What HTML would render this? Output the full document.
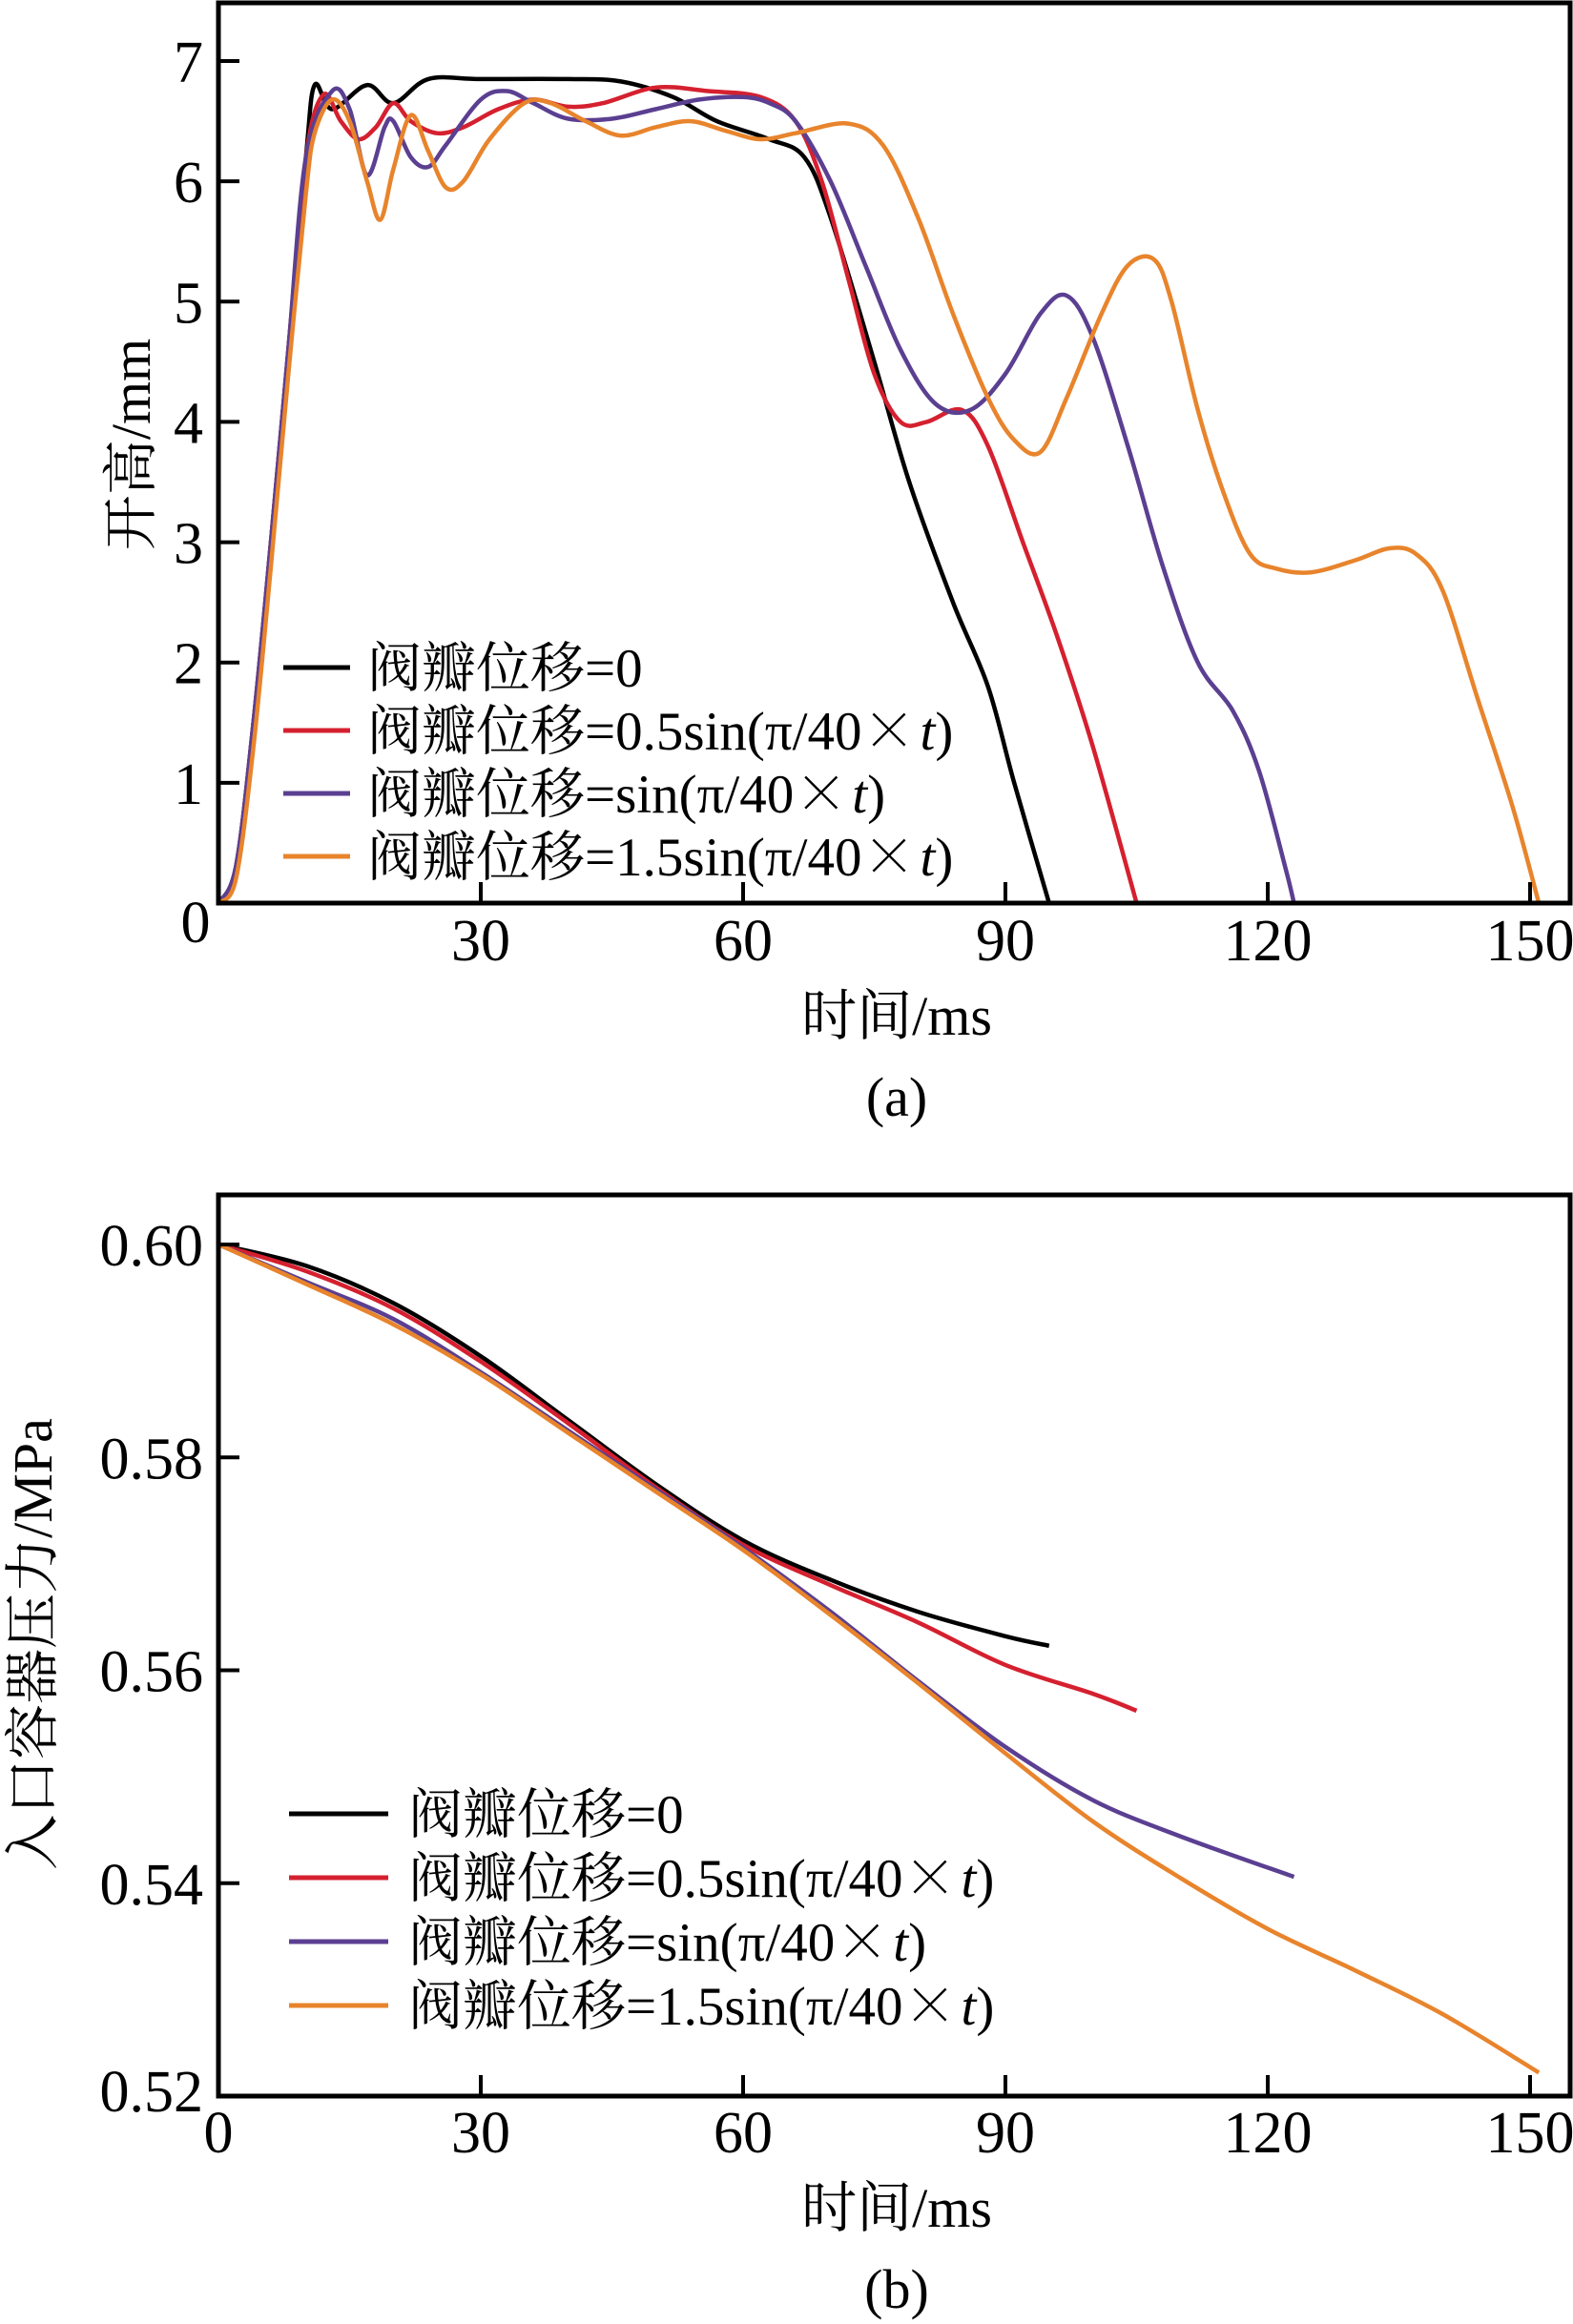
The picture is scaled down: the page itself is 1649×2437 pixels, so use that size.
<!DOCTYPE html>
<html><head><meta charset="utf-8">
<style>
html,body{margin:0;padding:0;background:#fff;}
svg{display:block;}
text{font-family:"Liberation Serif","Noto Serif CJK SC","Noto Sans CJK SC",serif;fill:#000;}
</style></head>
<body>
<svg id="fig" xmlns="http://www.w3.org/2000/svg" width="1649" height="2437" viewBox="0 0 1649 2437">
<g id="pa"></g>
<g id="pb"></g>
</svg>
<script>
// ---- data panel (a): opening height (mm) vs time (ms)
const tBlackA = [0,2,4,6,8,10,11,13,17,20,24,30,40,46,52,57,63,67,70,75,79,84,88,91,95];
const hBlackA = [0,0.3,1.5,3.0,4.6,6.2,6.8,6.6,6.8,6.65,6.85,6.85,6.85,6.83,6.7,6.5,6.35,6.2,5.7,4.5,3.5,2.5,1.8,1.0,0];
const tRedA = [0,2,4,6,8,10,12,14,16,18,20,22,25,28,32,36,40,44,50,56,62,66,69,72,75,78,81,85,88,92,96,100,105];
const hRedA = [0,0.3,1.5,3.0,4.6,6.2,6.72,6.5,6.35,6.45,6.65,6.5,6.4,6.45,6.6,6.68,6.62,6.65,6.78,6.75,6.7,6.5,6.0,5.2,4.4,4.0,4.0,4.1,3.8,3.0,2.2,1.3,0];
const tPurpleA = [0,2,4,6,8,10,13,15,17,19,20,22,24,26,30,33,36,40,45,50,55,60,63,66,70,74,78,82,86,90,94,97,100,104,108,112,116,119,122,123];
const hPurpleA = [0,0.3,1.5,3.0,4.6,6.2,6.75,6.6,6.05,6.45,6.5,6.2,6.12,6.3,6.68,6.75,6.65,6.52,6.52,6.6,6.68,6.7,6.65,6.5,6.0,5.3,4.6,4.15,4.1,4.4,4.9,5.05,4.7,3.8,2.8,2.0,1.6,1.1,0.3,0];
const tOrangeA = [0,2,4,6,8,10,11,13,15,17,18.5,20,22,24,26,28,31,35,38,42,46,50,54,58,62,66,72,76,80,84,88,91,94,97,101,104,107,109,112,115,118,121,125,130,134,137,140,144,148,151];
const hOrangeA = [0,0.2,1.3,2.8,4.4,5.9,6.4,6.68,6.5,6.0,5.68,6.1,6.55,6.25,5.95,6.0,6.35,6.65,6.65,6.5,6.38,6.45,6.5,6.42,6.35,6.4,6.48,6.3,5.7,4.9,4.2,3.85,3.75,4.2,4.9,5.3,5.35,5.0,4.1,3.4,2.9,2.78,2.75,2.85,2.95,2.9,2.6,1.7,0.8,0];
const xTicksA = [0,30,60,90,120,150];
const yTicksA = [0,1,2,3,4,5,6,7];
// ---- data panel (b): inlet pressure (MPa) vs time (ms)
const tBlackB = [0,10,20,30,40,50,60,70,80,90,95];
const pBlackB = [0.600,0.598,0.5945,0.5895,0.5835,0.5775,0.5722,0.5685,0.5655,0.5632,0.5623];
const tRedB = [0,10,20,30,40,50,60,70,80,90,100,105];
const pRedB = [0.600,0.5975,0.594,0.589,0.5832,0.5772,0.5718,0.568,0.5645,0.5605,0.5578,0.5562];
const tPurpleB = [0,10,20,30,40,50,60,70,80,90,100,110,123];
const pPurpleB = [0.600,0.5965,0.593,0.588,0.5825,0.577,0.5715,0.5655,0.559,0.5528,0.5478,0.5444,0.5406];
const tOrangeB = [0,10,20,30,40,50,60,70,80,90,100,110,120,130,140,151];
const pOrangeB = [0.600,0.5963,0.5925,0.5878,0.5823,0.5768,0.5713,0.5652,0.5588,0.5522,0.5458,0.5405,0.5357,0.5318,0.5277,0.5222];
const xTicksB = [0,30,60,90,120,150];
const yTicksB = ["0.52","0.54","0.56","0.58","0.60"];
const legendLabels = ["阀瓣位移=0","阀瓣位移=0.5sin(π/40×<i>t</i>)","阀瓣位移=sin(π/40×<i>t</i>)","阀瓣位移=1.5sin(π/40×<i>t</i>)"];
const colors = ["#000000","#d5202f","#5b3f91","#e8842c"];

const NS="http://www.w3.org/2000/svg";
function mk(parent,tag,attrs){const e=document.createElementNS(NS,tag);for(const k in attrs)e.setAttribute(k,attrs[k]);parent.appendChild(e);return e;}
function smooth(pts){
  let d="M"+pts[0][0].toFixed(1)+","+pts[0][1].toFixed(1);
  for(let i=0;i<pts.length-1;i++){
    const p0=pts[Math.max(0,i-1)],p1=pts[i],p2=pts[i+1],p3=pts[Math.min(pts.length-1,i+2)];
    const c1=[p1[0]+(p2[0]-p0[0])/6,p1[1]+(p2[1]-p0[1])/6];
    const c2=[p2[0]-(p3[0]-p1[0])/6,p2[1]-(p3[1]-p1[1])/6];
    d+="C"+c1[0].toFixed(1)+","+c1[1].toFixed(1)+" "+c2[0].toFixed(1)+","+c2[1].toFixed(1)+" "+p2[0].toFixed(1)+","+p2[1].toFixed(1);
  }
  return d;
}
function panel(g,cfg){
  const X=v=>cfg.x0+(v-cfg.xmin)/(cfg.xmax-cfg.xmin)*(cfg.x1-cfg.x0);
  const Y=v=>cfg.y0-(v-cfg.ymin)/(cfg.ymax-cfg.ymin)*(cfg.y0-cfg.y1);
  cfg.series.forEach((s,i)=>{
    const p=mk(g,"path",{d:smooth(s.t.map((t,j)=>[X(t),Y(s.v[j])])),fill:"none",stroke:colors[i],"stroke-width":4.5,"stroke-linejoin":"round"});
    
    
  });
  const fr=mk(g,"rect",{x:cfg.x0,y:cfg.top,width:1646-cfg.x0,height:cfg.y0-cfg.top,fill:"none",stroke:"#000","stroke-width":5});
  
  
  cfg.xticks.forEach((v,i)=>{
    if(i>0){const tk=mk(g,"line",{x1:X(v),x2:X(v),y1:cfg.y0,y2:cfg.y0-22,stroke:"#000","stroke-width":4});
      
      }
    const tx=mk(g,"text",{x:i==0?cfg.x0X:X(v),y:i==0?cfg.zeroY:cfg.xlabY,"text-anchor":"middle","font-size":62});
    tx.textContent=v;
    
    
  });
  cfg.yticks.forEach((v,i)=>{
    const nv=parseFloat(v);
    if(i>0){const tk=mk(g,"line",{x1:cfg.x0,x2:cfg.x0+22,y1:Y(nv),y2:Y(nv),stroke:"#000","stroke-width":4});
      
      }
    if(i==0 && cfg.skipY0) return;
    const tx=mk(g,"text",{x:213,y:Y(nv)+22+(i==0?cfg.y0shift:0),"text-anchor":"end","font-size":62});
    tx.textContent=v;
    
    
  });
  legendLabels.forEach((lab,i)=>{
    const y=cfg.legY+i*cfg.legDy;
    const ln=mk(g,"line",{x1:cfg.legX1,x2:cfg.legX2,y1:y,y2:y,stroke:colors[i],"stroke-width":5});
    
    
    const tx=mk(g,"text",{x:cfg.legTx,y:y+20,"font-size":57});
    tx.innerHTML=lab.replace("×","<tspan style=\"font-family:'Noto Serif CJK SC','Noto Sans CJK SC',serif\" font-weight=\"200\">×</tspan>").replace("<i>t</i>","<tspan font-style=\"italic\" dx=\"4\">t</tspan>");
    
    
  });
  const xl=mk(g,"text",{x:940,y:cfg.xtitleY,"text-anchor":"middle","font-size":58});
  xl.textContent="时间/ms";
  
  
  const yl=mk(g,"text",{x:0,y:0,"text-anchor":"middle","font-size":58,transform:"translate("+cfg.ytitleX+","+cfg.ytitleY+") rotate(-90)"});
  yl.textContent=cfg.ytitle;
  
  
  const cap=mk(g,"text",{x:940,y:cfg.capY,"text-anchor":"middle","font-size":58});
  cap.textContent=cfg.cap;
  
  
}
panel(document.getElementById("pa"),{
  x0:229,x1:1604,xmin:0,xmax:150,y0:947,y1:64,ymin:0,ymax:7,top:3,
  series:[{name:"black",t:tBlackA,v:hBlackA},{name:"red",t:tRedA,v:hRedA},{name:"purple",t:tPurpleA,v:hPurpleA},{name:"orange",t:tOrangeA,v:hOrangeA}],
  xticks:xTicksA,yticks:yTicksA,x0X:205,zeroY:988,xlabY:1007,skipY0:true,y0shift:0,
  legY:700,legDy:66,legX1:297,legX2:367,legTx:385,
  xtitleY:1085,ytitle:"开高/mm",ytitleX:157,ytitleY:466,cap:"(a)",capY:1170
});
panel(document.getElementById("pb"),{
  x0:229,x1:1604,xmin:0,xmax:150,y0:2198,y1:1305,ymin:0.52,ymax:0.60,top:1253,
  series:[{name:"black",t:tBlackB,v:pBlackB},{name:"red",t:tRedB,v:pRedB},{name:"purple",t:tPurpleB,v:pPurpleB},{name:"orange",t:tOrangeB,v:pOrangeB}],
  xticks:xTicksB,yticks:yTicksB,x0X:229,zeroY:2257,xlabY:2257,skipY0:false,y0shift:-6,
  legY:1902,legDy:67,legX1:303,legX2:407,legTx:428,
  xtitleY:2335,ytitle:"入口容器压力/MPa",ytitleX:54,ytitleY:1724,cap:"(b)",capY:2420
});
</script>
</body></html>
